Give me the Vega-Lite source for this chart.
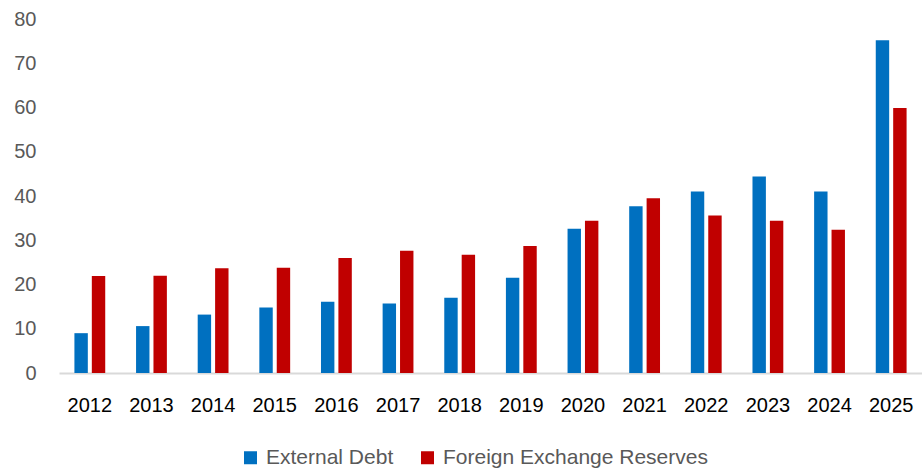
{
  "$schema": "https://vega.github.io/schema/vega-lite/v6.json",
  "autosize": "none",
  "width": 863,
  "height": 354,
  "padding": {"left": 59, "top": 19, "right": 0, "bottom": 96},
  "background": "white",
  "data": {
    "values": [
      {"year": "2012", "series": "External Debt", "value": 9.0},
      {"year": "2012", "series": "Foreign Exchange Reserves", "value": 21.9},
      {"year": "2013", "series": "External Debt", "value": 10.6},
      {"year": "2013", "series": "Foreign Exchange Reserves", "value": 22.0},
      {"year": "2014", "series": "External Debt", "value": 13.2},
      {"year": "2014", "series": "Foreign Exchange Reserves", "value": 23.7},
      {"year": "2015", "series": "External Debt", "value": 14.8},
      {"year": "2015", "series": "Foreign Exchange Reserves", "value": 23.8},
      {"year": "2016", "series": "External Debt", "value": 16.1},
      {"year": "2016", "series": "Foreign Exchange Reserves", "value": 26.0},
      {"year": "2017", "series": "External Debt", "value": 15.7},
      {"year": "2017", "series": "Foreign Exchange Reserves", "value": 27.6},
      {"year": "2018", "series": "External Debt", "value": 17.0},
      {"year": "2018", "series": "Foreign Exchange Reserves", "value": 26.7},
      {"year": "2019", "series": "External Debt", "value": 21.5},
      {"year": "2019", "series": "Foreign Exchange Reserves", "value": 28.7},
      {"year": "2020", "series": "External Debt", "value": 32.6},
      {"year": "2020", "series": "Foreign Exchange Reserves", "value": 34.4},
      {"year": "2021", "series": "External Debt", "value": 37.7},
      {"year": "2021", "series": "Foreign Exchange Reserves", "value": 39.5},
      {"year": "2022", "series": "External Debt", "value": 41.0},
      {"year": "2022", "series": "Foreign Exchange Reserves", "value": 35.6},
      {"year": "2023", "series": "External Debt", "value": 44.4},
      {"year": "2023", "series": "Foreign Exchange Reserves", "value": 34.4},
      {"year": "2024", "series": "External Debt", "value": 41.0},
      {"year": "2024", "series": "Foreign Exchange Reserves", "value": 32.4},
      {"year": "2025", "series": "External Debt", "value": 75.2},
      {"year": "2025", "series": "Foreign Exchange Reserves", "value": 59.9}
    ]
  },
  "mark": {"type": "bar"},
  "encoding": {
    "x": {
      "field": "year", "type": "nominal", "title": null,
      "scale": {"paddingInner": 0.5, "paddingOuter": 0.25},
      "axis": {
        "labelAngle": 0, "labelFont": "Liberation Sans", "labelFontSize": 20,
        "labelColor": "#000000", "ticks": false, "labelPadding": 22,
        "domainColor": "#d9d9d9", "domainWidth": 2, "grid": false
      }
    },
    "xOffset": {
      "field": "series", "type": "nominal",
      "scale": {"paddingInner": 0.23, "paddingOuter": 0}
    },
    "y": {
      "field": "value", "type": "quantitative", "title": null,
      "scale": {"domain": [0, 80], "nice": false},
      "axis": {
        "values": [0, 10, 20, 30, 40, 50, 60, 70, 80],
        "labelFont": "Liberation Sans", "labelFontSize": 20,
        "labelColor": "#595959", "ticks": false, "domain": false,
        "grid": false, "labelPadding": 23
      }
    },
    "color": {
      "field": "series", "type": "nominal", "title": null,
      "scale": {"domain": ["External Debt", "Foreign Exchange Reserves"], "range": ["#0070c0", "#c00000"]},
      "legend": {
        "orient": "none", "direction": "horizontal",
        "legendX": 181, "legendY": 428,
        "symbolType": "square", "symbolSize": 169, "symbolStrokeWidth": 0,
        "labelFont": "Liberation Sans", "labelFontSize": 21, "labelColor": "#595959",
        "labelLimit": 400, "columnPadding": 23, "labelOffset": 5
      }
    }
  },
  "config": {"view": {"stroke": null}}
}
